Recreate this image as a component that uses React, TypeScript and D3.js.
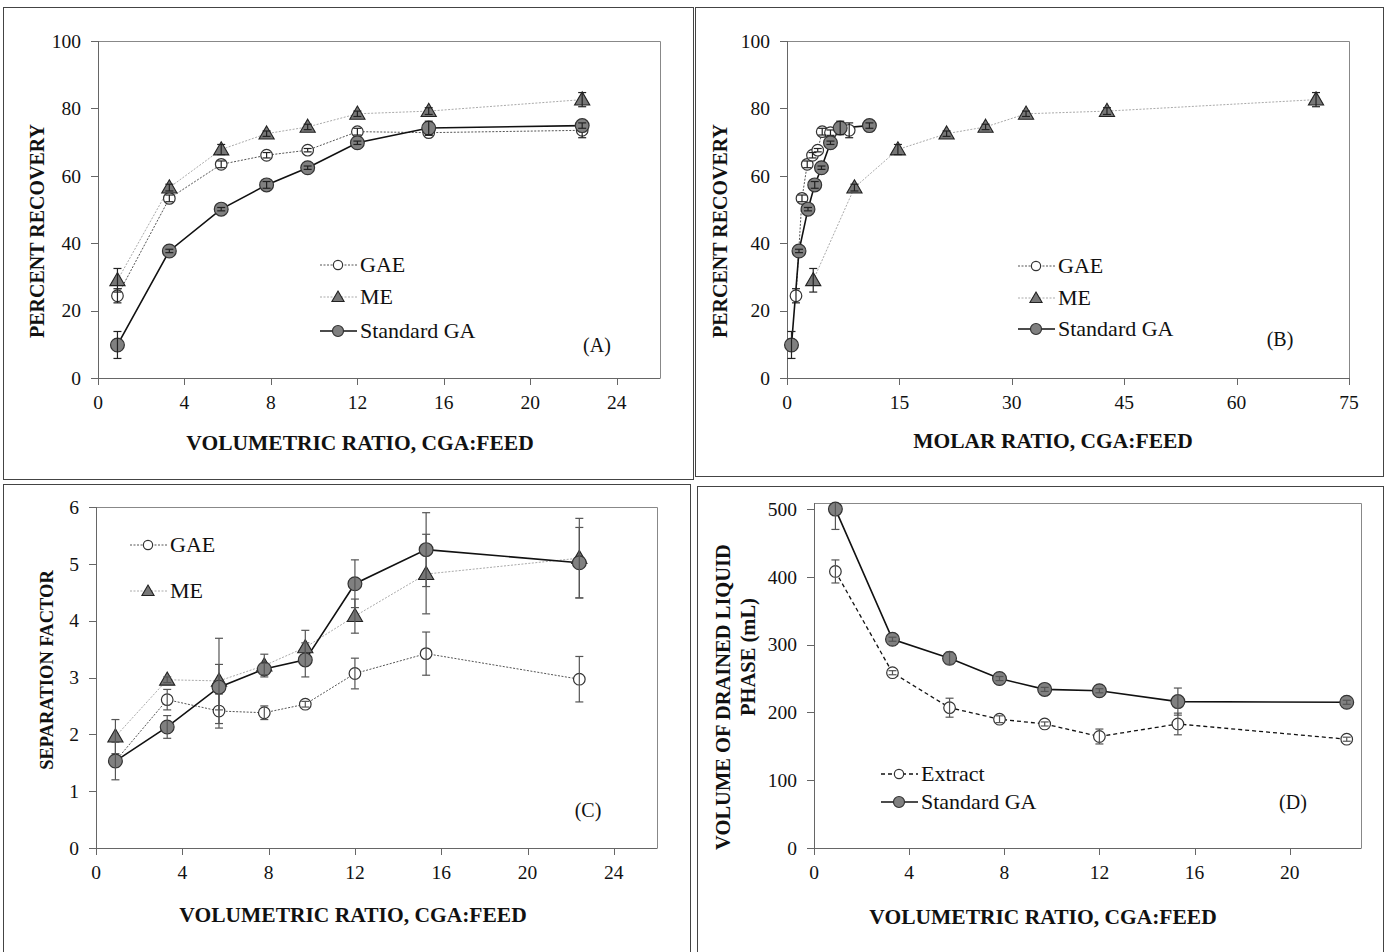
import React from "react";
import * as d3 from "d3";

// ---------- DATA ----------
const volRatio = [0.9, 3.3, 5.7, 7.8, 9.7, 12, 15.3, 22.4];

// Panel A / B : percent recovery
const recGAE = [24.4, 53.3, 63.4, 66.1, 67.6, 73.1, 72.8, 73.5];
const recGAEErr = [2.1, 1, 1, 0.8, 0.5, 1, 0.8, 2.2];
const recME = [29, 56.5, 67.8, 72.5, 74.5, 78.4, 79.2, 82.6];
const recMEErr = [3.5, 1, 1.5, 0.8, 0.8, 0.8, 1, 2.1];
const recGA = [9.8, 37.7, 50.1, 57.3, 62.4, 69.8, 74.2, 74.9];
const recGAErr = [4, 0.5, 0.5, 1, 0.5, 0.5, 2, 0.8];

// Panel B : molar ratios
const molarGAE = [1.2, 2.0, 2.7, 3.4, 4.1, 4.7, 5.8, 8.3];
const molarME = [3.5, 9.0, 14.8, 21.3, 26.5, 31.9, 42.7, 70.6];
const molarGA = [0.6, 1.6, 2.8, 3.7, 4.6, 5.8, 7.1, 11.0];

// Panel C : separation factor
const sfGAE = [1.53, 2.61, 2.41, 2.38, 2.53, 3.07, 3.42, 2.97];
const sfGAEErr = [0.1, 0.18, 0.3, 0.12, 0.05, 0.27, 0.38, 0.4];
const sfME = [1.96, 2.96, 2.94, 3.21, 3.53, 4.08, 4.82, 5.1];
const sfMEErr = [0.3, 0.05, 0.75, 0.2, 0.3, 0.3, 0.7, 0.7];
const sfGA = [1.53, 2.13, 2.83, 3.15, 3.31, 4.65, 5.25, 5.02];
const sfGAErr = [0.33, 0.2, 0.4, 0.1, 0.3, 0.42, 0.65, 0.62];

// Panel D : volume of drained liquid phase
const volExtract = [408, 258.6, 207, 190, 183, 164.5, 183, 160.5];
const volExtractErr = [17, 3, 14, 5, 3, 11, 16, 3];
const volGA = [500, 308, 280, 250, 234, 232, 216, 215];
const volGAErr = [30, 3, 9, 3, 3, 3, 20, 3];

const ticks0to24 = [0, 4, 8, 12, 16, 20, 24];
const ticks0to20 = [0, 4, 8, 12, 16, 20];
const ticksRec = [0, 20, 40, 60, 80, 100];
const ticksMolar = [0, 15, 30, 45, 60, 75];
const ticksSF = [0, 1, 2, 3, 4, 5, 6];
const ticksVol = [0, 100, 200, 300, 400, 500];

// ---------- STYLES ----------
const FONT = "'Liberation Serif', 'Times New Roman', serif";
const lineStyles: Record<string, any> = {
  gae: { stroke: "#555", strokeWidth: 1, strokeDasharray: "2,1.5" },
  me: { stroke: "#aaa", strokeWidth: 1, strokeDasharray: "2,1.5" },
  ga: { stroke: "#111", strokeWidth: 1.6 },
  ext: { stroke: "#111", strokeWidth: 1.3, strokeDasharray: "4,3" },
};

function Marker({ kind, x, y, small }: { kind: string; x: number; y: number; small?: boolean }) {
  const k = small ? 0.8 : 1;
  if (kind === "open")
    return <circle cx={x} cy={y} r={5.8 * k} fill="#fff" stroke="#333" strokeWidth={1.2} />;
  if (kind === "filled")
    return <circle cx={x} cy={y} r={6.9 * k} fill="#808080" stroke="#333" strokeWidth={1.2} />;
  const p = d3.symbol().type(d3.symbolTriangle).size(100 * k * k)()!;
  return <path d={p} transform={`translate(${x},${y + 1})`} fill="#777" stroke="#222" strokeWidth={1.1} />;
}

type Series = { xs: number[]; ys: number[]; err: number[]; marker: string; line: string; errColor: string };

type PanelCfg = {
  id: string;
  frame: [number, number, number, number];
  plot: { l: number; t: number; r: number; b: number };
  xDomain: [number, number];
  yDomain: [number, number];
  xTicks: number[];
  yTicks: number[];
  series: Series[];
  legend: { x: number; ys: number[]; items: { label: string; marker: string; line: string }[] };
  tag: { text: string; x: number; y: number };
  xTitle: { text: string; x: number; y: number };
  yTitle: { lines: { text: string; x: number; y: number }[]; weight: string; size: number };
};

function Panel({ cfg }: { cfg: PanelCfg }) {
  const { plot } = cfg;
  const x = d3.scaleLinear().domain(cfg.xDomain).range([plot.l, plot.r]);
  const y = d3.scaleLinear().domain(cfg.yDomain).range([plot.b, plot.t]);
  const line = d3.line<number>();
  const [fx0, fy0, fx1, fy1] = cfg.frame;
  const clipId = "clip-" + cfg.id;
  return (
    <g>
      <rect x={fx0 + 0.5} y={fy0 + 0.5} width={fx1 - fx0} height={fy1 - fy0} fill="none" stroke="#444" strokeWidth={1} />
      <clipPath id={clipId}>
        <rect x={plot.l} y={plot.t} width={plot.r - plot.l} height={plot.b - plot.t} />
      </clipPath>
      {/* plot box */}
      <path d={`M${plot.l},${plot.t + 0.5}H${plot.r + 0.5}V${plot.b}`} fill="none" stroke="#888" strokeWidth={1} />
      <line x1={plot.l + 0.5} x2={plot.l + 0.5} y1={plot.t} y2={plot.b} stroke="#666" strokeWidth={1} />
      <line x1={plot.l} x2={plot.r + 0.5} y1={plot.b + 0.5} y2={plot.b + 0.5} stroke="#666" strokeWidth={1} />
      {/* y ticks */}
      {cfg.yTicks.map((t) => (
        <g key={"y" + t}>
          <line x1={plot.l - 7} x2={plot.l} y1={Math.round(y(t)) + 0.5} y2={Math.round(y(t)) + 0.5} stroke="#666" />
          <text x={plot.l - 17} y={y(t)} dy="0.35em" textAnchor="end" fontFamily={FONT} fontSize={19.5} fill="#111">
            {t}
          </text>
        </g>
      ))}
      {/* x ticks */}
      {cfg.xTicks.map((t) => (
        <g key={"x" + t}>
          <line x1={Math.round(x(t)) + 0.5} x2={Math.round(x(t)) + 0.5} y1={plot.b} y2={plot.b + 7} stroke="#666" />
          <text x={x(t)} y={plot.b + 31} textAnchor="middle" fontFamily={FONT} fontSize={19.5} fill="#111">
            {t}
          </text>
        </g>
      ))}
      {/* series lines */}
      {cfg.series.map((s, i) => (
        <path
          key={"l" + i}
          d={line.x((_, j) => x(s.xs[j])).y((v) => y(v))(s.ys) || ""}
          fill="none"
          {...lineStyles[s.line]}
        />
      ))}
      {/* markers & error bars */}
      {cfg.series.map((s, i) => (
        <g key={"m" + i}>
          {s.ys.map((v, j) => (
            <Marker key={j} kind={s.marker} x={x(s.xs[j])} y={y(v)} />
          ))}
          <g clipPath={`url(#${clipId})`}>
            {s.ys.map((v, j) => {
              const e = s.err[j];
              if (!e) return null;
              const cx = x(s.xs[j]);
              const y1 = y(v + e);
              const y2 = y(v - e);
              return (
                <g key={"e" + j} stroke={s.errColor} strokeWidth={1.2}>
                  <line x1={cx} x2={cx} y1={y1} y2={y2} />
                  <line x1={cx - 4} x2={cx + 4} y1={y1} y2={y1} />
                  <line x1={cx - 4} x2={cx + 4} y1={y2} y2={y2} />
                </g>
              );
            })}
          </g>
        </g>
      ))}
      {/* legend */}
      {cfg.legend.items.map((it, i) => {
        const ly = cfg.legend.ys[i];
        const lx = cfg.legend.x;
        return (
          <g key={"lg" + i}>
            <line x1={lx} x2={lx + 37} y1={ly} y2={ly} {...lineStyles[it.line]} />
            <Marker kind={it.marker} x={lx + 18} y={ly} small />
            <text x={lx + 40} y={ly + 7} fontFamily={FONT} fontSize={22} fill="#111">
              {it.label}
            </text>
          </g>
        );
      })}
      <text x={cfg.tag.x} y={cfg.tag.y} textAnchor="middle" fontFamily={FONT} fontSize={20} fill="#111">
        {cfg.tag.text}
      </text>
      <text
        x={cfg.xTitle.x}
        y={cfg.xTitle.y}
        textAnchor="middle"
        fontFamily={FONT}
        fontSize={21.5}
        fontWeight="bold"
        fill="#111"
      >
        {cfg.xTitle.text}
      </text>
      {cfg.yTitle.lines.map((ln, i) => (
        <text
          key={"yt" + i}
          transform={`translate(${ln.x},${ln.y}) rotate(-90)`}
          textAnchor="middle"
          fontFamily={FONT}
          fontSize={cfg.yTitle.size}
          fontWeight={cfg.yTitle.weight}
          fill="#111"
        >
          {ln.text}
        </text>
      ))}
    </g>
  );
}

const legend3 = [
  { label: "GAE", marker: "open", line: "gae" },
  { label: "ME", marker: "tri", line: "me" },
  { label: "Standard GA", marker: "filled", line: "ga" },
];

const panels: PanelCfg[] = [
  {
    id: "A",
    frame: [3, 7, 693, 479],
    plot: { l: 98, t: 41, r: 660, b: 378 },
    xDomain: [0, 26],
    yDomain: [0, 100],
    xTicks: ticks0to24,
    yTicks: ticksRec,
    series: [
      { xs: volRatio, ys: recGAE, err: recGAEErr, marker: "open", line: "gae", errColor: "#222" },
      { xs: volRatio, ys: recME, err: recMEErr, marker: "tri", line: "me", errColor: "#222" },
      { xs: volRatio, ys: recGA, err: recGAErr, marker: "filled", line: "ga", errColor: "#222" },
    ],
    legend: { x: 320, ys: [265, 297, 331], items: legend3 },
    tag: { text: "(A)", x: 597, y: 352 },
    xTitle: { text: "VOLUMETRIC RATIO, CGA:FEED", x: 360, y: 450 },
    yTitle: { lines: [{ text: "PERCENT  RECOVERY", x: 44, y: 231 }], weight: "bold", size: 20 },
  },
  {
    id: "B",
    frame: [695, 7, 1383, 476],
    plot: { l: 787, t: 41, r: 1349, b: 378 },
    xDomain: [0, 75],
    yDomain: [0, 100],
    xTicks: ticksMolar,
    yTicks: ticksRec,
    series: [
      { xs: molarGAE, ys: recGAE, err: recGAEErr, marker: "open", line: "gae", errColor: "#222" },
      { xs: molarME, ys: recME, err: recMEErr, marker: "tri", line: "me", errColor: "#222" },
      { xs: molarGA, ys: recGA, err: recGAErr, marker: "filled", line: "ga", errColor: "#222" },
    ],
    legend: { x: 1018, ys: [266, 298, 329], items: legend3 },
    tag: { text: "(B)", x: 1280, y: 346 },
    xTitle: { text: "MOLAR RATIO, CGA:FEED", x: 1053, y: 448 },
    yTitle: { lines: [{ text: "PERCENT  RECOVERY", x: 727, y: 231 }], weight: "bold", size: 20 },
  },
  {
    id: "C",
    frame: [3, 484, 690, 960],
    plot: { l: 96, t: 507, r: 657, b: 848 },
    xDomain: [0, 26],
    yDomain: [0, 6],
    xTicks: ticks0to24,
    yTicks: ticksSF,
    series: [
      { xs: volRatio, ys: sfGAE, err: sfGAEErr, marker: "open", line: "gae", errColor: "#555" },
      { xs: volRatio, ys: sfME, err: sfMEErr, marker: "tri", line: "me", errColor: "#555" },
      { xs: volRatio, ys: sfGA, err: sfGAErr, marker: "filled", line: "ga", errColor: "#555" },
    ],
    legend: { x: 130, ys: [545, 591], items: legend3.slice(0, 2) },
    tag: { text: "(C)", x: 588, y: 817 },
    xTitle: { text: "VOLUMETRIC RATIO, CGA:FEED", x: 353, y: 922 },
    yTitle: { lines: [{ text: "SEPARATION FACTOR", x: 53, y: 670 }], weight: "bold", size: 18.5 },
  },
  {
    id: "D",
    frame: [697, 486, 1383, 960],
    plot: { l: 814, t: 503, r: 1361, b: 848 },
    xDomain: [0, 23],
    yDomain: [0, 509],
    xTicks: ticks0to20,
    yTicks: ticksVol,
    series: [
      { xs: volRatio, ys: volExtract, err: volExtractErr, marker: "open", line: "ext", errColor: "#555" },
      { xs: volRatio, ys: volGA, err: volGAErr, marker: "filled", line: "ga", errColor: "#555" },
    ],
    legend: {
      x: 881,
      ys: [774, 802],
      items: [
        { label: "Extract", marker: "open", line: "ext" },
        { label: "Standard GA", marker: "filled", line: "ga" },
      ],
    },
    tag: { text: "(D)", x: 1293, y: 809 },
    xTitle: { text: "VOLUMETRIC RATIO, CGA:FEED", x: 1043, y: 924 },
    yTitle: {
      lines: [
        { text: "VOLUME OF DRAINED LIQUID", x: 730, y: 697 },
        { text: "PHASE (mL)", x: 755, y: 657 },
      ],
      weight: "bold",
      size: 20.5,
    },
  },
];

export default function App() {
  return (
    <svg
      width={1386}
      height={952}
      viewBox="0 0 1386 952"
      style={{ position: "absolute", left: 0, top: 0, background: "#fff" }}
    >
      <rect width={1386} height={952} fill="#fff" />
      {panels.map((p) => (
        <Panel key={p.id} cfg={p} />
      ))}
    </svg>
  );
}
